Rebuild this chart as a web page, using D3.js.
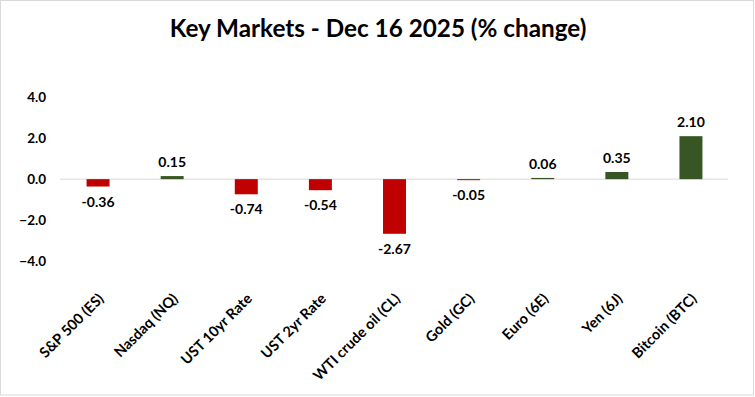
<!DOCTYPE html>
<html><head><meta charset="utf-8">
<script src="https://cdn.jsdelivr.net/npm/d3@7"></script>
<style>body{margin:0;background:#fff}svg{display:block}text{font-family:Lato,"Open Sans",sans-serif;font-weight:bold;fill:#000}</style>
</head><body>
<script>
const categories = ["S&P 500 (ES)","Nasdaq (NQ)","UST 10yr Rate","UST 2yr Rate","WTI crude oil (CL)","Gold (GC)","Euro (6E)","Yen (6J)","Bitcoin (BTC)"];
const values = [-0.36,0.15,-0.74,-0.54,-2.67,-0.05,0.06,0.35,2.10];
const yTicks = [-4,-2,0,2,4];
const title = "Key Markets - Dec 16 2025 (% change)";

const W=755,H=397;
const svg=d3.select("body").append("svg").attr("width",W).attr("height",H);
svg.append("rect").attr("x",0.5).attr("y",0.5).attr("width",W-2).attr("height",H-2.5).attr("fill","#fff").attr("stroke","#d9d9d9");

const x=d3.scaleBand().domain(categories).range([61,728]).paddingInner(0.69).paddingOuter(0.345);
const y=d3.scaleLinear().domain([-4,4]).range([261,97.3]);

const t=svg.append("text").attr("x",378).attr("y",37).attr("text-anchor","middle").style("font-size","22px").text(title);
const tl=t.node().getComputedTextLength();
t.style("font-size",(22*417/tl)+"px");

svg.append("line").attr("x1",60).attr("x2",728).attr("y1",y(0)).attr("y2",y(0)).attr("stroke","#d9d9d9").attr("stroke-width",1);

const yAxis=d3.axisLeft(y).tickValues(yTicks).tickFormat(d3.format(".1f")).tickSize(0).tickPadding(0);
const ga=svg.append("g").attr("transform","translate(46,0)").call(yAxis);
ga.select(".domain").remove();
ga.selectAll("text").style("font-size","13.5px").style("font-family","Lato,sans-serif").style("font-weight","bold").attr("fill","#000");

svg.selectAll("rect.bar").data(values).join("rect").attr("class","bar")
 .attr("x",(d,i)=>x(categories[i])).attr("width",x.bandwidth())
 .attr("y",d=>y(Math.max(0,d))).attr("height",d=>Math.abs(y(d)-y(0)))
 .attr("fill",d=>d<0?"#c00000":"#375623");

svg.selectAll("text.val").data(values).join("text").attr("class","val")
 .attr("x",(d,i)=>x(categories[i])+x.bandwidth()/2)
 .attr("y",d=>d>=0?y(d)-9:y(d)+20)
 .attr("text-anchor","middle").style("font-size","14px")
 .text(d=>d.toFixed(2));

svg.selectAll("text.cat").data(categories).join("text").attr("class","cat")
 .attr("transform",d=>`translate(${x(d)+x.bandwidth()/2+3},${296}) rotate(-45)`)
 .attr("text-anchor","end").attr("dy","0.35em").style("font-size","14.5px")
 .text(d=>d);
</script>
</body></html>
